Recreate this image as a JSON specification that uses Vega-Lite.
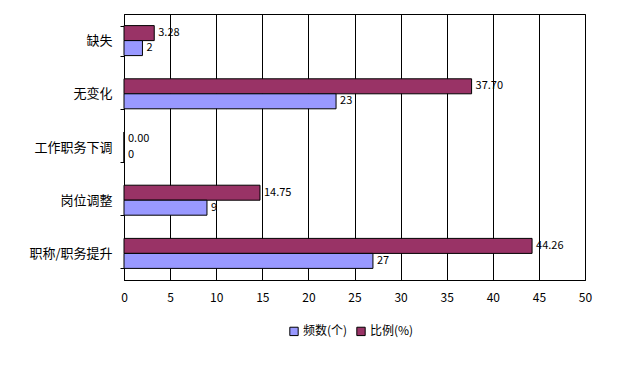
{
  "$schema": "https://vega.github.io/schema/vega-lite/v6.json",
  "width": 461,
  "height": 266,
  "autosize": {"type": "none"},
  "padding": {"left": 124, "top": 14, "right": 32, "bottom": 97},
  "background": "white",
  "config": {
    "font": "Noto Sans CJK SC",
    "view": {"stroke": "black", "strokeWidth": 1},
    "axis": {"labelFont": "Noto Sans CJK SC", "labelFontSize": 12, "labelColor": "black", "domainColor": "black", "tickColor": "black"}
  },
  "data": {
    "values": [
      {"category": "缺失", "series": "比例(%)", "value": 3.28, "label": "3.28"},
      {"category": "缺失", "series": "频数(个)", "value": 2, "label": "2"},
      {"category": "无变化", "series": "比例(%)", "value": 37.70, "label": "37.70"},
      {"category": "无变化", "series": "频数(个)", "value": 23, "label": "23"},
      {"category": "工作职务下调", "series": "比例(%)", "value": 0, "label": "0.00"},
      {"category": "工作职务下调", "series": "频数(个)", "value": 0, "label": "0"},
      {"category": "岗位调整", "series": "比例(%)", "value": 14.75, "label": "14.75"},
      {"category": "岗位调整", "series": "频数(个)", "value": 9, "label": "9"},
      {"category": "职称/职务提升", "series": "比例(%)", "value": 44.26, "label": "44.26"},
      {"category": "职称/职务提升", "series": "频数(个)", "value": 27, "label": "27"}
    ]
  },
  "encoding": {
    "y": {
      "field": "category",
      "type": "nominal",
      "sort": ["缺失", "无变化", "工作职务下调", "岗位调整", "职称/职务提升"],
      "scale": {"paddingInner": 0.436, "paddingOuter": 0.218},
      "axis": {"title": null, "tickBand": "extent", "tickSize": 4, "labelPadding": 8, "domain": true, "domainColor": "black", "labelFontSize": 13}
    },
    "yOffset": {
      "field": "series",
      "type": "nominal",
      "sort": ["比例(%)", "频数(个)"],
      "scale": {"domain": ["比例(%)", "频数(个)"], "paddingInner": 0, "paddingOuter": 0}
    },
    "x": {
      "field": "value",
      "type": "quantitative",
      "scale": {"domain": [0, 50], "nice": false},
      "axis": {"title": null, "values": [0, 5, 10, 15, 20, 25, 30, 35, 40, 45, 50], "grid": true, "gridColor": "black", "gridOpacity": 1, "ticks": false, "labelPadding": 12, "labelFlush": false, "labelOverlap": false, "domainColor": "black"}
    }
  },
  "layer": [
    {
      "mark": {"type": "bar", "stroke": "black", "strokeWidth": 1},
      "encoding": {
        "color": {
          "field": "series",
          "type": "nominal",
          "scale": {"domain": ["频数(个)", "比例(%)"], "range": ["#9999FF", "#993366"]},
          "legend": {
            "title": null,
            "orient": "none",
            "direction": "horizontal",
            "legendX": 164,
            "legendY": 311,
            "symbolType": "square",
            "symbolSize": 70,
            "symbolStrokeColor": "black",
            "symbolStrokeWidth": 1,
            "labelFont": "Noto Sans CJK SC",
            "labelFontSize": 12,
            "labelColor": "black",
            "columnPadding": 6,
            "labelOffset": 3
          }
        }
      }
    },
    {
      "mark": {"type": "text", "align": "left", "baseline": "middle", "dx": 4, "fontSize": 11, "color": "black", "font": "Noto Sans CJK SC"},
      "encoding": {"text": {"field": "label", "type": "nominal"}}
    }
  ]
}
